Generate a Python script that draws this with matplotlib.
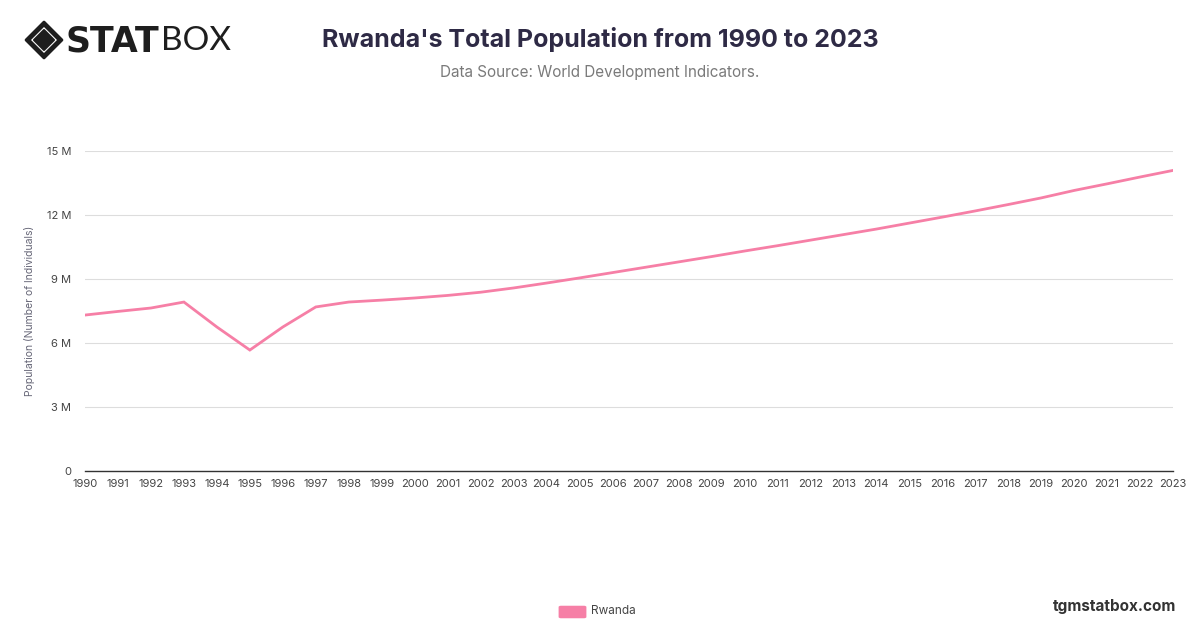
import matplotlib.pyplot as plt
from matplotlib.patches import Polygon, FancyBboxPatch
from matplotlib.ticker import FuncFormatter, MultipleLocator

plt.rcParams['font.family'] = ['Inter', 'DejaVu Sans']

# Rwanda total population (millions)
years = list(range(1990, 2024))
population = [7.31, 7.48, 7.64, 7.92, 6.75, 5.67, 6.75, 7.69, 7.92, 8.01,
              8.11, 8.23, 8.38, 8.58, 8.81, 9.05, 9.30, 9.55, 9.80, 10.05,
              10.31, 10.56, 10.82, 11.08, 11.34, 11.62, 11.90, 12.19, 12.49,
              12.80, 13.15, 13.46, 13.78, 14.09]
series_name = 'Rwanda'
line_color = '#f67fa6'

fig = plt.figure(figsize=(12, 6.28), dpi=100)
ax = fig.add_axes([85/1200, 157/628, 1088/1200, 320/628])

ax.plot(years, population, color=line_color, lw=2.0, solid_joinstyle='miter')
ax.set_xlim(1990, 2023)
ax.set_ylim(0, 15)
ax.set_xticks(years)
ax.yaxis.set_major_locator(MultipleLocator(3))
ax.yaxis.set_major_formatter(FuncFormatter(lambda v, p: '0' if v == 0 else f'{v:.0f} M'))
ax.grid(axis='y', color='#dddddd', lw=0.8)
ax.set_axisbelow(True)
for s in ['top', 'right', 'left']:
    ax.spines[s].set_visible(False)
ax.spines['bottom'].set_color('#333333')
ax.spines['bottom'].set_linewidth(1.0)
ax.tick_params(axis='x', length=0, pad=6, labelsize=8, colors='#444444')
ax.tick_params(axis='y', length=0, pad=10, labelsize=8, colors='#444444')
ax.set_ylabel('Population (Number of Individuals)', fontsize=7.5, color='#666677', labelpad=12)
ax.yaxis.set_label_coords(-50/1088, 0.5)

# titles
fig.text(0.5, 1 - 40/628, "Rwanda's Total Population from 1990 to 2023", ha='center', va='center',
         fontsize=18, fontweight='bold', color='#2e2a45')
fig.text(0.5, 1 - 72/628, 'Data Source: World Development Indicators.', ha='center', va='center',
         fontsize=11, color='#7a7a7a')

# logo
cx, cy = 44/1200, 1 - 40/628
def diamond(rad, **kw):
    pts = [(cx, cy + rad/628), (cx + rad/1200, cy), (cx, cy - rad/628), (cx - rad/1200, cy)]
    return Polygon(pts, closed=True, transform=fig.transFigure, joinstyle='round', **kw)
fig.patches.append(diamond(18, facecolor='#1e1e1e', edgecolor='#1e1e1e', lw=2))
fig.patches.append(diamond(13, facecolor='white', edgecolor='none'))
fig.patches.append(diamond(10, facecolor='#1e1e1e', edgecolor='#1e1e1e', lw=1.5))
fig.text(66/1200, 1 - 41/628, 'STAT', ha='left', va='center', fontsize=25,
         fontweight='heavy', color='#1e1e1e', family=['DejaVu Sans'])
fig.text(161/1200, 1 - 41/628, 'BOX', ha='left', va='center', fontsize=24,
         fontweight='normal', color='#1e1e1e', family=['Lato', 'DejaVu Sans'])

# legend
fig.patches.append(FancyBboxPatch((561/1200, 1 - 617/628), 23/1200, 10/628,
                                  boxstyle='round,pad=0.002', transform=fig.transFigure,
                                  facecolor=line_color, edgecolor='none'))
fig.text(591/1200, 1 - 611/628, series_name, ha='left', va='center', fontsize=8.5, color='#444444')

fig.text(1176/1200, 1 - 606/628, 'tgmstatbox.com', ha='right', va='center', fontsize=11,
         fontweight='bold', color='#333333')

fig.savefig('out.png', dpi=100, facecolor='white')
